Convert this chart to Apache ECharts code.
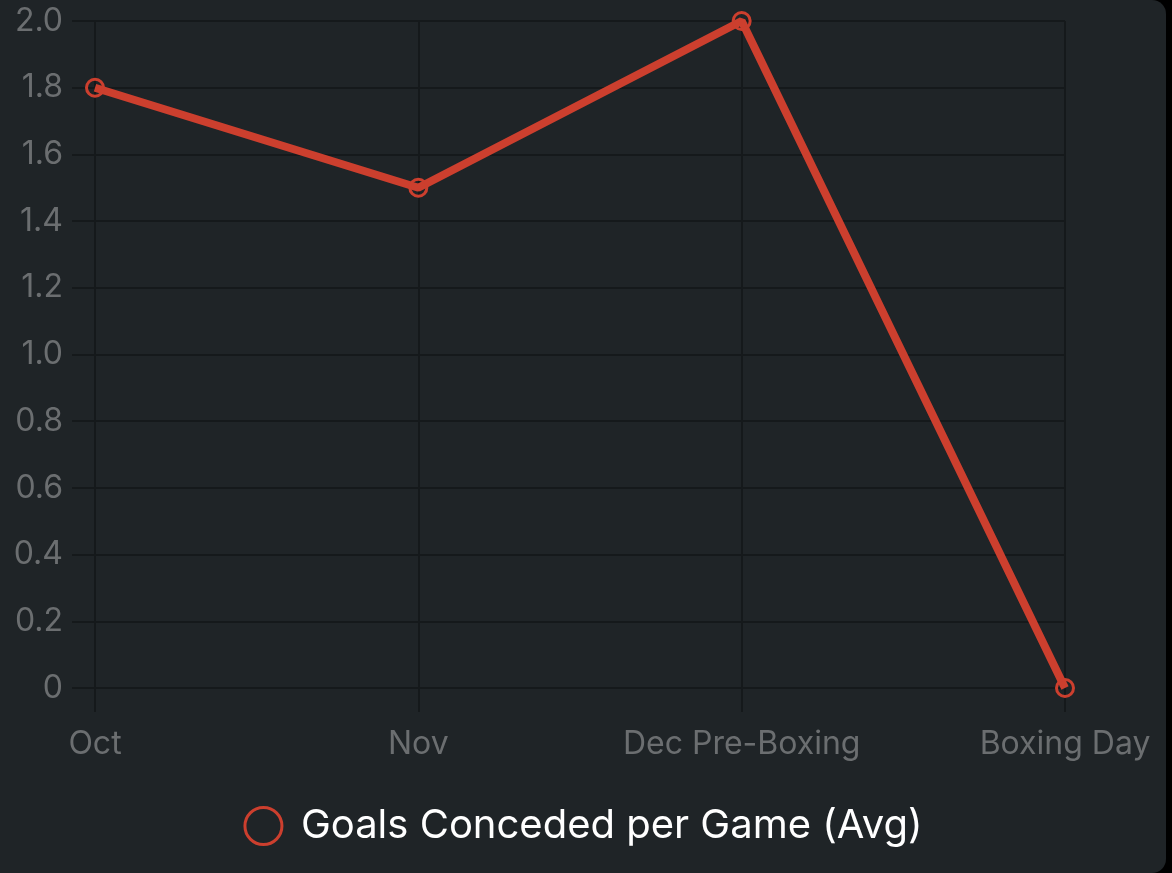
<!DOCTYPE html>
<html>
<head>
<meta charset="utf-8">
<script src="https://cdn.jsdelivr.net/npm/echarts@6/dist/echarts.min.js"></script>
<style>
  html, body { margin: 0; padding: 0; background: #000; }
  #chart { width: 1166px; height: 873px; background: #1f2427; border-radius: 0 14px 14px 0; }
</style>
</head>
<body>
<div id="chart"></div>
<script>
// Categorias do eixo x
const periodos = ["Oct", "Nov", "Dec Pre-Boxing", "Boxing Day"];
// Média de gols sofridos por jogo
const golsSofridos = [1.8, 1.5, 2.0, 0];
const nomeSerie = "Goals Conceded per Game (Avg)";

const corLinha = "#cc3f2e";
const corGrade = "#15191b";
const corTexto = "#6b6e70";

const chart = echarts.init(document.getElementById("chart"));
chart.setOption({
    backgroundColor: "transparent",
    textStyle: { fontFamily: "Inter, Liberation Sans, sans-serif" },
    grid: { left: 95, right: 101, top: 21, bottom: 185 },
    legend: {
        bottom: 22,
        left: "center",
        icon: "circle",
        itemWidth: 37,
        itemHeight: 37,
        itemGap: 10,
        itemStyle: { color: "transparent", borderColor: corLinha, borderWidth: 3 },
        textStyle: { color: "#ffffff", fontSize: 40, padding: [0, 0, 0, 14] },
        data: [nomeSerie]
    },
    xAxis: {
        type: "category",
        data: periodos,
        boundaryGap: false,
        axisLine: { show: false },
        axisTick: { show: true, length: 24, lineStyle: { color: corGrade, width: 2 } },
        axisLabel: { color: corTexto, fontSize: 32, margin: 40 },
        splitLine: { show: true, lineStyle: { color: corGrade, width: 2 } }
    },
    yAxis: {
        type: "value",
        min: 0,
        max: 2,
        interval: 0.2,
        axisLine: { show: false },
        axisTick: { show: true, length: 23, lineStyle: { color: corGrade, width: 2 } },
        axisLabel: {
            color: corTexto,
            fontSize: 32,
            margin: 32,
            formatter: v => v === 0 ? "0" : v.toFixed(1)
        },
        splitLine: { show: true, lineStyle: { color: corGrade, width: 2 } }
    },
    series: [{
        name: nomeSerie,
        type: "line",
        data: golsSofridos,
        symbol: "circle",
        symbolSize: 17,
        lineStyle: { color: corLinha, width: 8 },
        itemStyle: { color: "rgba(0,0,0,0)", borderColor: corLinha, borderWidth: 3 }
    }]
});
</script>
</body>
</html>
